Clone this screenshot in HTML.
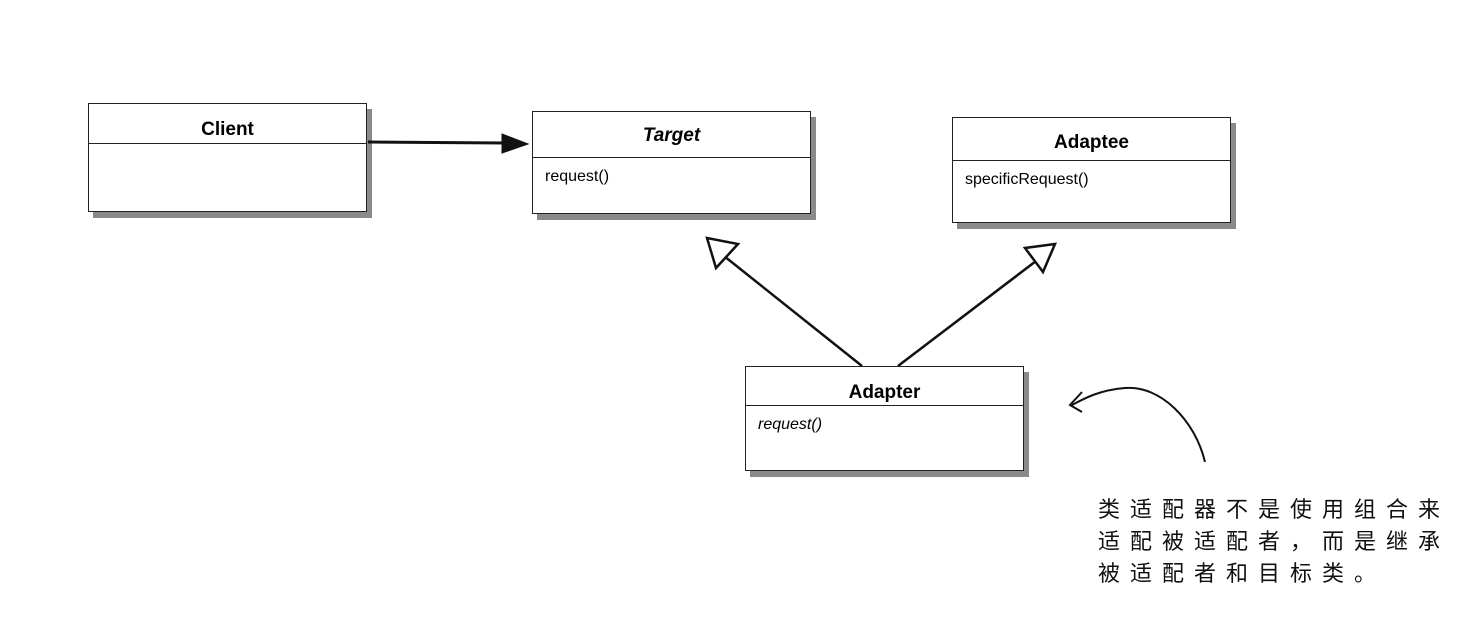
<!DOCTYPE html>
<html><head><meta charset="utf-8"><style>
body{margin:0;width:1462px;height:624px;background:#fff;position:relative;overflow:hidden;font-family:"Liberation Sans",Arial,sans-serif}
.box{position:absolute;border:1.5px solid #222;background:#fff;box-shadow:5px 6px 0 #8a8a8a}
.hd{border-bottom:1.5px solid #222;text-align:center;font-weight:bold;font-size:19px;box-sizing:border-box}
.bd{font-size:16px;padding:10px 0 0 12px}
.note{position:absolute;left:1098px;top:494px;font-family:"Liberation Sans","Noto Sans CJK SC",sans-serif;font-size:22px;line-height:32px;letter-spacing:10px;color:#111}
</style></head><body>
<div class="box" style="left:88px;top:103px;width:277px;height:107px"><div class="hd" style="height:40px;line-height:52px">Client</div></div>
<div class="box" style="left:532px;top:111px;width:277px;height:101px"><div class="hd" style="height:46px;line-height:48px;font-style:italic">Target</div><div class="bd">request()</div></div>
<div class="box" style="left:952px;top:117px;width:277px;height:104px"><div class="hd" style="height:43px;line-height:50px">Adaptee</div><div class="bd">specificRequest()</div></div>
<div class="box" style="left:745px;top:366px;width:277px;height:103px"><div class="hd" style="height:39px;line-height:52px">Adapter</div><div class="bd" style="font-style:italic">request()</div></div>
<svg width="1462" height="624" style="position:absolute;left:0;top:0" fill="none" stroke="#111">
<line x1="368" y1="142" x2="505" y2="143" stroke-width="3"/>
<polygon points="502,134 528,144 502,153" fill="#111"/>
<line x1="862" y1="366" x2="724" y2="256" stroke-width="2.5"/>
<polygon points="707,238 738,244 716,268" fill="#fff" stroke-width="2.5"/>
<line x1="898" y1="366" x2="1040" y2="258" stroke-width="2.5"/>
<polygon points="1055,244 1025,248 1043,272" fill="#fff" stroke-width="2.5"/>
<path d="M1205,462 C1195,420 1160,385 1125,388 C1100,390 1085,398 1072,405" stroke-width="2"/>
<path d="M1082,392 L1070,405 L1082,412" stroke-width="2"/>
</svg>
<div class="note">类适配器不是使用组合来<br>适配被适配者，而是继承<br>被适配者和目标类。</div>
</body></html>
